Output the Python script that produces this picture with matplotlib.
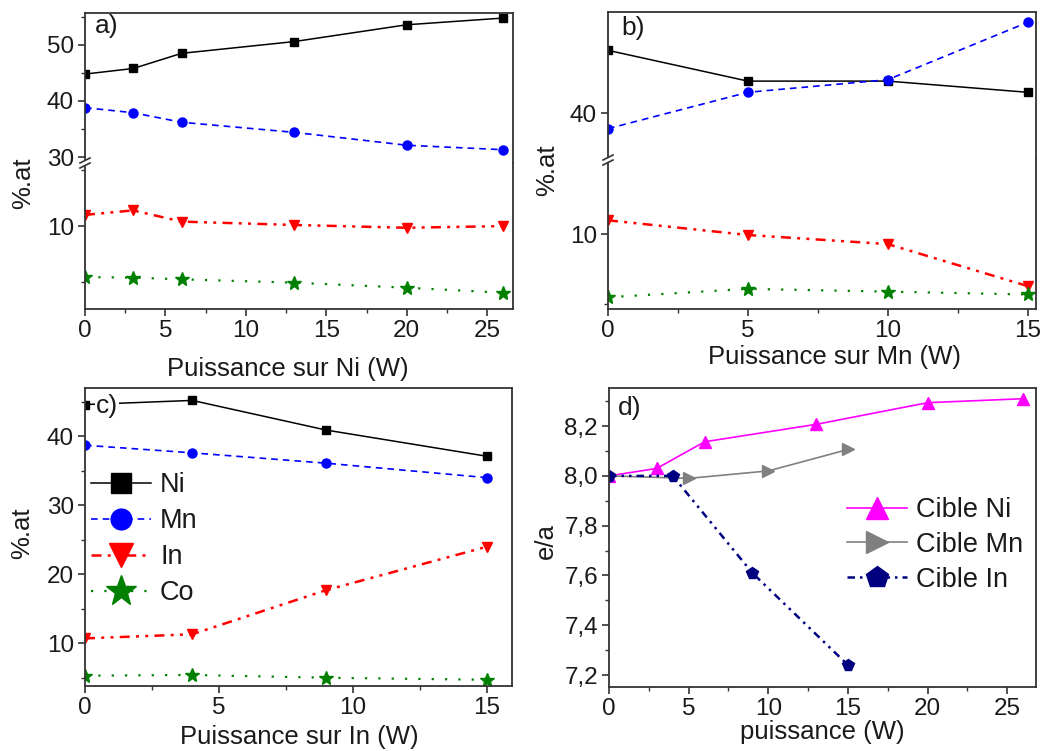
import matplotlib
matplotlib.use('Agg')
import matplotlib.pyplot as plt
from matplotlib.lines import Line2D
from matplotlib.patches import Rectangle
from matplotlib.ticker import MultipleLocator, FixedLocator

plt.rcParams['font.family'] = ['Liberation Sans', 'DejaVu Sans']

W, H = 1044, 751

# ---------------- data ----------------
# panel a : Puissance sur Ni
a_x = [0, 3, 6, 13, 20, 26]
a_ni = [44.8, 45.8, 48.5, 50.6, 53.6, 54.8]
a_mn = [38.8, 37.9, 36.2, 34.4, 32.1, 31.3]
a_in = [11.0, 11.4, 10.4, 10.1, 9.85, 10.0]
a_co = [5.45, 5.4, 5.25, 4.95, 4.5, 4.05]

# panel b : Puissance sur Mn
b_x = [0, 5, 10, 15]
b_ni = [44.5, 42.3, 42.3, 41.5]
b_mn = [38.9, 41.5, 42.4, 46.5]
b_in = [11.0, 9.95, 9.3, 6.3]
b_co = [5.5, 6.1, 5.9, 5.7]

# panel c : Puissance sur In
c_x = [0, 4, 9, 15]
c_ni = [44.6, 45.2, 40.9, 37.1]
c_mn = [38.7, 37.6, 36.1, 34.0]
c_in = [10.7, 11.3, 17.7, 24.0]
c_co = [5.3, 5.4, 5.0, 4.7]

# panel d : e/a
d_ni_x = [0, 3, 6, 13, 20, 26]
d_ni = [8.0, 8.03, 8.137, 8.207, 8.294, 8.31]
d_mn_x = [0, 5, 10, 15]
d_mn = [8.0, 7.99, 8.02, 8.106]
d_in_x = [0, 4, 9, 15]
d_in = [8.0, 8.0, 7.61, 7.24]

element_names = ['Ni', 'Mn', 'In', 'Co']
target_names = ['Cible Ni', 'Cible Mn', 'Cible In']
d_yticks = [7.2, 7.4, 7.6, 7.8, 8.0, 8.2]
d_yticklabels = ['7,2', '7,4', '7,6', '7,8', '8,0', '8,2']

# ---------------- styles ----------------
ST = {
    'Ni': dict(color='black', ls='-', lw=1.1, marker='s', ms=6),
    'Mn': dict(color='#0000ff', ls=(0, (4, 3)), lw=1.2, marker='o', ms=6.5),
    'In': dict(color='#ff0000', ls=(0, (4, 2.5, 1.2, 2.5, 1.2, 2.5)), lw=1.8, marker='v', ms=7.5),
    'Co': dict(color='#008000', ls=(0, (1, 5)), lw=1.6, marker='*', ms=10),
}
ST_D = {
    'Cible Ni': dict(color='#ff00ff', ls='-', lw=1.2, marker='^', ms=8.5),
    'Cible Mn': dict(color='#808080', ls='-', lw=1.2, marker='>', ms=8.5),
    'Cible In': dict(color='#000080', ls=(0, (3, 2, 1, 2, 1, 2)), lw=1.8, marker='p', ms=8.5),
}
TXT = '#1a1a1a'
SPC = '#333333'
FS = 17.5      # tick labels
FL = 18.5      # axis labels
FLEG = 19.5

fig = plt.figure(figsize=(W / 100, H / 100), dpi=100)


def ax_px(l, t, r, b):
    return fig.add_axes([l / W, 1 - b / H, (r - l) / W, (b - t) / H])


def style(ax):
    for s in ax.spines.values():
        s.set_linewidth(1.3)
        s.set_color(SPC)
    ax.tick_params(which='major', direction='out', length=5, width=1.2, colors=SPC,
                   labelcolor=TXT, labelsize=FS, top=False, right=False, pad=3)
    ax.tick_params(which='minor', direction='out', length=3, width=1.0, colors=SPC,
                   top=False, right=False)


def fx(p):
    return p / W


def fy(p):
    return 1 - p / H


def break_marks(x, y):
    fig.add_artist(Rectangle((fx(x - 6), fy(y + 2.5)), 12 / W, 5 / H,
                             transform=fig.transFigure, facecolor='white',
                             edgecolor='none', zorder=5))
    for dy in (-2.5, 2.5):
        fig.add_artist(Line2D([fx(x - 5), fx(x + 5)], [fy(y + dy + 2.5), fy(y + dy - 2.5)],
                              color=SPC, lw=1.2, zorder=6))


def broken_panel(l, t, brk, r, b, x, series, up_lim, lo_lim, xlim, up_major, up_minor,
                 lo_major, lo_minor):
    up = ax_px(l, t, r, brk)
    lo = ax_px(l, brk, r, b)
    for ax in (up, lo):
        style(ax)
        for name, vals in zip(element_names, series):
            ax.plot(x, vals, **ST[name])
        ax.set_xlim(*xlim)
        ax.xaxis.set_major_locator(MultipleLocator(5))
        ax.xaxis.set_minor_locator(MultipleLocator(2.5))
    up.set_ylim(*up_lim)
    lo.set_ylim(*lo_lim)
    up.spines['bottom'].set_visible(False)
    lo.spines['top'].set_visible(False)
    up.tick_params(which='both', bottom=False, labelbottom=False)
    up.yaxis.set_major_locator(FixedLocator(up_major))
    up.yaxis.set_minor_locator(FixedLocator(up_minor))
    lo.yaxis.set_major_locator(FixedLocator(lo_major))
    lo.yaxis.set_minor_locator(FixedLocator(lo_minor))
    break_marks(l, brk)
    return up, lo


# ---------------- panel a ----------------
broken_panel(85, 13, 163, 513, 309, a_x, [a_ni, a_mn, a_in, a_co],
             (28.93, 55.7), (2.6, 15.63), (0, 26.6),
             [30, 40, 50], [35, 45, 55], [10], [5, 15])
fig.text(fx(288), fy(369), 'Puissance sur Ni (W)', ha='center', va='center', fontsize=FL, color=TXT)
fig.text(fx(23), fy(183), '%.at', ha='center', va='center', rotation=90, fontsize=FL, color=TXT)
fig.text(fx(107), fy(26), 'a)', ha='center', va='center', fontsize=19, color=TXT)

# ---------------- panel b ----------------
broken_panel(608, 12, 160, 1036, 309, b_x, [b_ni, b_mn, b_in, b_co],
             (36.66, 47.24), (4.66, 15.31), (0, 15.3),
             [40], [], [10], [5])
fig.text(fx(835), fy(357), 'Puissance sur Mn (W)', ha='center', va='center', fontsize=FL, color=TXT)
fig.text(fx(547), fy(170), '%.at', ha='center', va='center', rotation=90, fontsize=FL, color=TXT)
fig.text(fx(633), fy(28), 'b)', ha='center', va='center', fontsize=19, color=TXT)

# ---------------- panel c ----------------
axc = ax_px(85, 388, 512, 686)
style(axc)
for name, vals in zip(element_names, [c_ni, c_mn, c_in, c_co]):
    axc.plot(c_x, vals, label=name, **ST[name])
axc.set_xlim(0, 15.93)
axc.set_ylim(3.8, 47.0)
axc.xaxis.set_major_locator(MultipleLocator(5))
axc.xaxis.set_minor_locator(MultipleLocator(2.5))
axc.yaxis.set_major_locator(FixedLocator([10, 20, 30, 40]))
axc.yaxis.set_minor_locator(MultipleLocator(5))
legc = axc.legend(loc='upper left', bbox_to_anchor=(fx(91), fy(472)), bbox_transform=fig.transFigure,
                  frameon=False, fontsize=FLEG, markerscale=2.3, handlelength=2.2,
                  handletextpad=0.35, labelspacing=0.37, borderpad=0, borderaxespad=0)
for t in legc.get_texts():
    t.set_color(TXT)
fig.text(fx(299), fy(737), 'Puissance sur In (W)', ha='center', va='center', fontsize=FL, color=TXT)
fig.text(fx(22), fy(533), '%.at', ha='center', va='center', rotation=90, fontsize=FL, color=TXT)
fig.text(fx(107), fy(406), 'c)', ha='center', va='center', fontsize=19, color=TXT,
         bbox=dict(facecolor='white', edgecolor='none', pad=1), zorder=10)

# ---------------- panel d ----------------
axd = ax_px(609, 388, 1036, 687)
style(axd)
for name, xs, vals in zip(target_names, [d_ni_x, d_mn_x, d_in_x], [d_ni, d_mn, d_in]):
    axd.plot(xs, vals, label=name, **ST_D[name])
axd.set_xlim(0, 26.8)
axd.set_ylim(7.152, 8.353)
axd.xaxis.set_major_locator(MultipleLocator(5))
axd.xaxis.set_minor_locator(MultipleLocator(2.5))
axd.set_yticks(d_yticks)
axd.set_yticklabels(d_yticklabels)
axd.yaxis.set_minor_locator(MultipleLocator(0.1))
legd = axd.legend(loc='upper left', bbox_to_anchor=(fx(847), fy(497)), bbox_transform=fig.transFigure,
                  frameon=False, fontsize=FLEG, markerscale=1.9, handlelength=2.2,
                  handletextpad=0.35, labelspacing=0.33, borderpad=0, borderaxespad=0)
for t in legd.get_texts():
    t.set_color(TXT)
fig.text(fx(822), fy(732), 'puissance (W)', ha='center', va='center', fontsize=FL, color=TXT)
fig.text(fx(546), fy(541), 'e/a', ha='center', va='center', rotation=90, fontsize=FL, color=TXT)
fig.text(fx(630), fy(408), 'd)', ha='center', va='center', fontsize=19, color=TXT)

fig.savefig('out.png', dpi=100)
